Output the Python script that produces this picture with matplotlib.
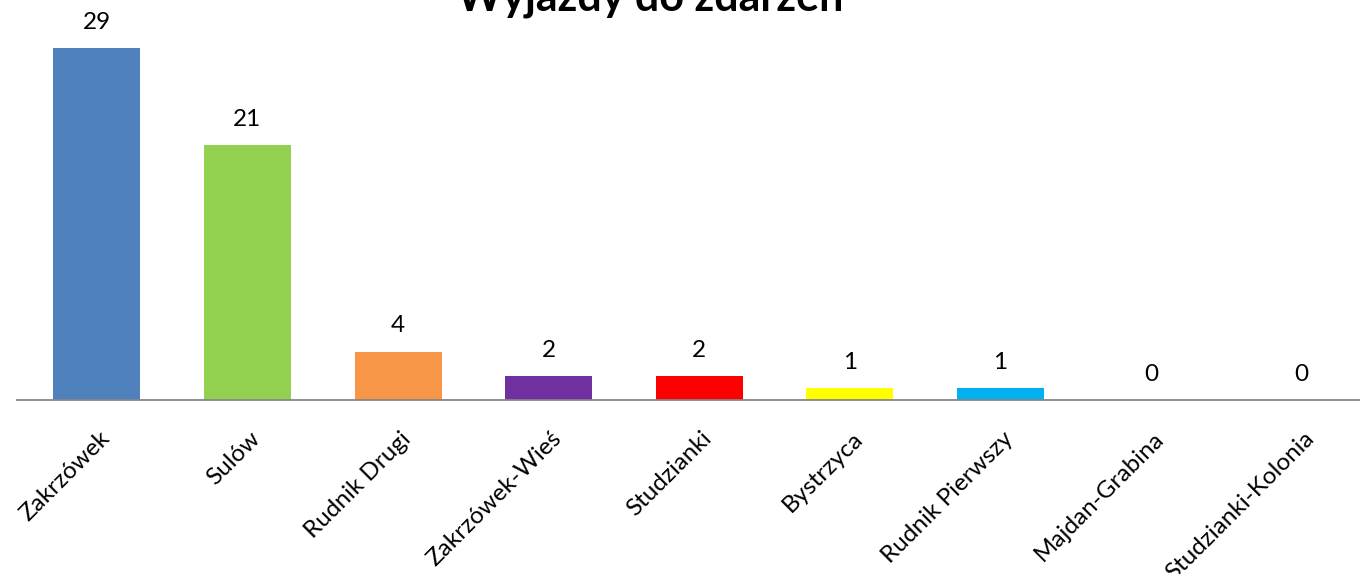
import matplotlib
matplotlib.use('Agg')
import matplotlib.pyplot as plt
from matplotlib.transforms import ScaledTranslation

plt.rcParams['font.family'] = ['Lato', 'DejaVu Sans']

title = 'Wyjazdy do zdarzeń'
places = ['Zakrzówek', 'Sulów', 'Rudnik Drugi', 'Zakrzówek-Wieś', 'Studzianki',
          'Bystrzyca', 'Rudnik Pierwszy', 'Majdan-Grabina', 'Studzianki-Kolonia']
counts = [29, 21, 4, 2, 2, 1, 1, 0, 0]
colors = ['#4F81BD', '#92D050', '#F79646', '#7030A0', '#FF0000',
          '#FFFF00', '#00B0F0', '#A5A5A5', '#A5A5A5']

fig = plt.figure(figsize=(13.6, 5.74), dpi=100)
ax = fig.add_axes([17/1360, 1 - 400/574, 1.0, 388/574])

x = list(range(len(places)))
ax.bar(x, counts, width=0.578, color=colors)
ax.set_xlim(-0.53, 8.5)
ax.set_ylim(0, 32)

for xi, v in zip(x, counts):
    ax.annotate(str(v), (xi, v), xytext=(0, 18.5), textcoords='offset points',
                ha='center', va='center', fontsize=17.5)

for s in ['top', 'right', 'left']:
    ax.spines[s].set_visible(False)
ax.spines['bottom'].set_color('#868686')
ax.spines['bottom'].set_linewidth(1.3)
ax.set_yticks([])
ax.set_xticks(x)
ax.set_xticklabels(places, rotation=45, ha='right', rotation_mode='anchor', fontsize=17.5)
ax.tick_params(axis='x', length=0, pad=20)
shift = ScaledTranslation(2/100, 0, fig.dpi_scale_trans)
for lbl in ax.get_xticklabels():
    lbl.set_transform(lbl.get_transform() + shift)

fig.text(650/1360, 1 - 10/574, title, ha='center', va='baseline',
         fontsize=31, fontweight='bold')

fig.savefig('out.png', dpi=100)
